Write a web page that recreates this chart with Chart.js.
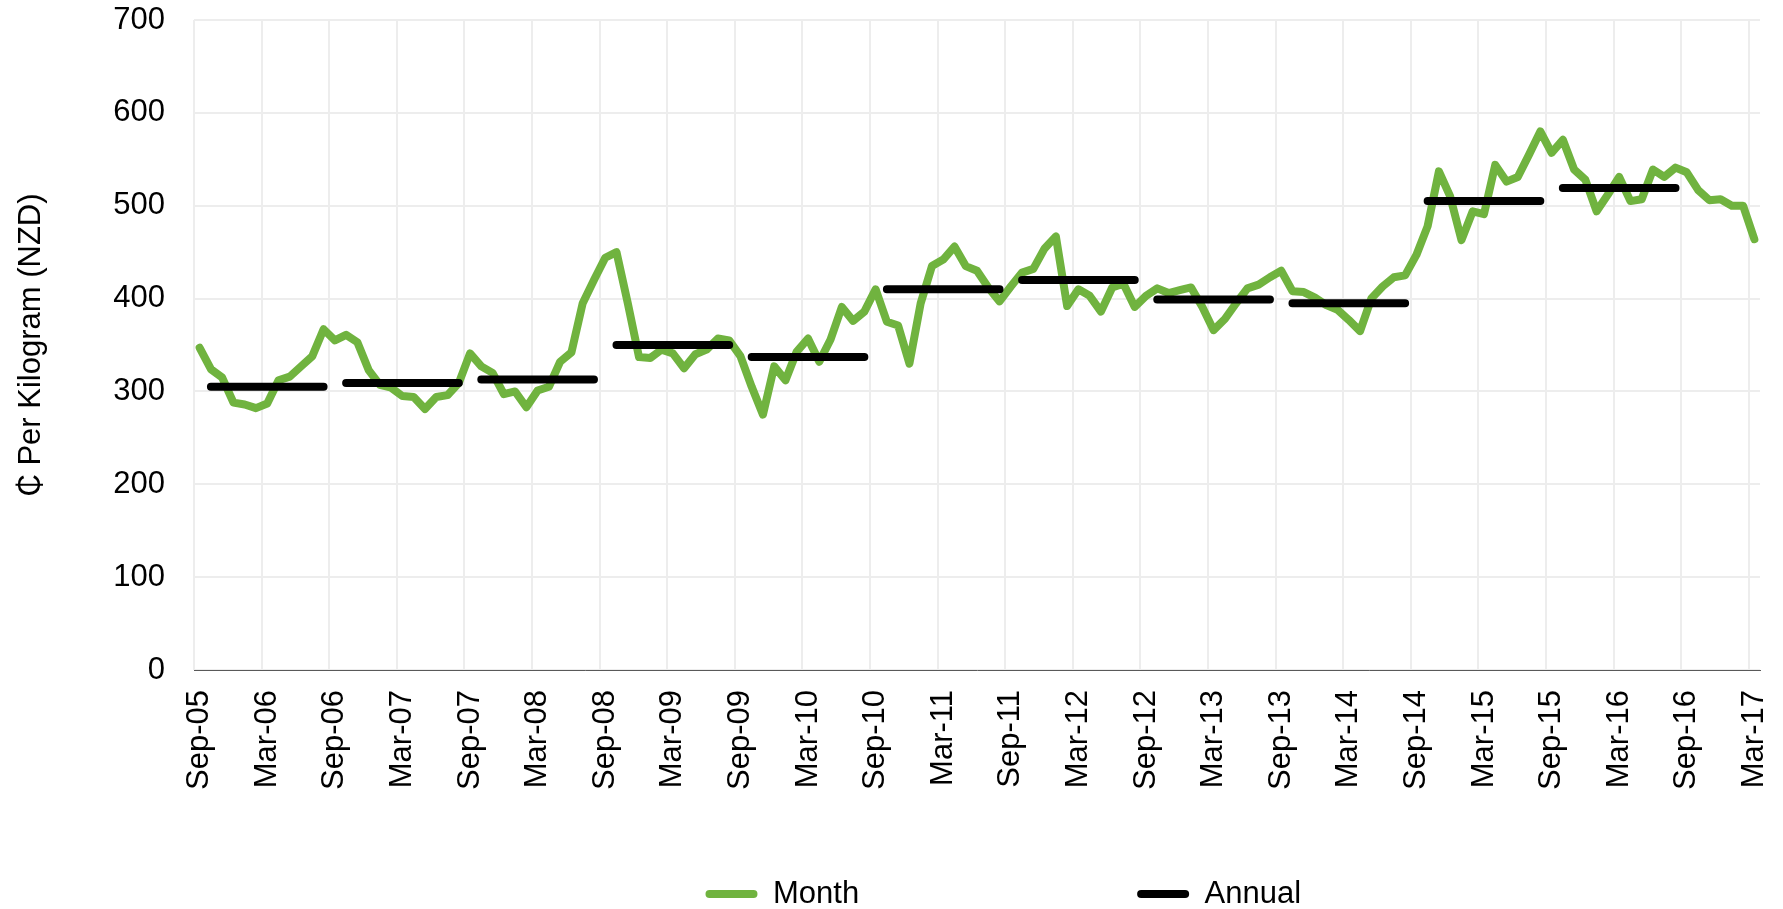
<!DOCTYPE html>
<html>
<head>
<meta charset="utf-8">
<title>Price per kilogram</title>
<script src="https://cdn.jsdelivr.net/npm/chart.js@4.4.1/dist/chart.umd.min.js"></script>
<style>
    html, body { margin: 0; padding: 0; background: #ffffff; }
    #wrap { width: 1783px; height: 909px; }
</style>
</head>
<body>
<div id="wrap"><canvas id="priceChart" width="1783" height="909"></canvas></div>
<script>
// Monthly price, Sep-05 .. Mar-17 (cents per kg, NZD)
const monthlyValues = [
    347, 324, 315, 288, 286, 282, 287, 312, 316, 327, 338, 367,
    355, 361, 353, 323, 307, 304, 295, 294, 281, 294, 296, 309,
    341, 327, 320, 297, 300, 283, 301, 305, 332, 342, 395, 420,
    444, 450, 395, 337, 336, 345, 341, 325, 340, 345, 357, 355,
    338, 305, 275, 327, 312, 343, 357, 332, 356, 391, 376, 386,
    410, 375, 371, 330, 395, 435, 442, 456, 435, 430, 412, 397,
    413, 428, 432, 454, 467, 392, 410, 403, 386, 412, 416, 391,
    403, 411, 406, 409, 412, 391, 366, 378, 395, 411, 415, 423,
    430, 408, 407, 401, 393, 388, 377, 365, 400, 413, 423, 425,
    447, 478, 537, 510, 463, 494, 491, 544, 526, 531, 555, 580,
    557, 571, 539, 528, 494, 512, 531, 505, 507, 539, 531, 541,
    536, 517, 506, 507, 500, 500, 464
];

// Annual average, one per season (Oct .. Aug)
const annualValues = [305, 309, 313, 350, 337, 410, 420, 399, 395, 505, 519];

// Labels shown on the x axis (every 6th month)
const tickLabels = [
    'Sep-05', 'Mar-06', 'Sep-06', 'Mar-07', 'Sep-07', 'Mar-08', 'Sep-08', 'Mar-09',
    'Sep-09', 'Mar-10', 'Sep-10', 'Mar-11', 'Sep-11', 'Mar-12', 'Sep-12', 'Mar-13',
    'Sep-13', 'Mar-14', 'Sep-14', 'Mar-15', 'Sep-15', 'Mar-16', 'Sep-16', 'Mar-17'
];

const monthNames = ['Jan', 'Feb', 'Mar', 'Apr', 'May', 'Jun', 'Jul', 'Aug', 'Sep', 'Oct', 'Nov', 'Dec'];

// Build the month categories starting at Sep 2005
const monthLabels = monthlyValues.map((_, i) => {
    const m = (8 + i) % 12;
    const y = 2005 + Math.floor((8 + i) / 12);
    return monthNames[m] + '-' + String(y % 100).padStart(2, '0');
});

// Annual line: flat segment Oct..Aug, gap at each Sep
const annualSeries = monthLabels.map((_, i) => {
    const k = Math.floor(i / 12);
    if (i % 12 === 0 || k >= annualValues.length) return null;
    return annualValues[k];
});

const FONT = "'Liberation Sans', Arial, sans-serif";
const GRID = '#ededed';
const GREEN = '#70b33f';
const CLEAR = 'rgba(0,0,0,0)';
const nbsp = n => '\u00A0'.repeat(n);
const legendTail = [22, 43]; // trailing space to spread the legend items

new Chart(document.getElementById('priceChart'), {
    type: 'line',
    data: {
        labels: monthLabels,
        datasets: [
            {
                label: 'Month',
                data: monthlyValues,
                borderColor: GREEN,
                backgroundColor: GREEN,
                borderWidth: 8,
                borderCapStyle: 'round',
                borderJoinStyle: 'round',
                pointRadius: 0,
                tension: 0,
                order: 1
            },
            {
                label: 'Annual',
                data: annualSeries,
                borderColor: '#000000',
                backgroundColor: '#000000',
                borderWidth: 8,
                borderCapStyle: 'round',
                pointRadius: 0,
                spanGaps: false,
                order: 0
            }
        ]
    },
    options: {
        responsive: false,
        devicePixelRatio: 1,
        animation: false,
        layout: {
            padding: { left: 0, right: 23, top: 20, bottom: 0 }
        },
        plugins: {
            tooltip: { enabled: false },
            legend: {
                position: 'bottom',
                align: 'end',
                maxHeight: 119,
                labels: {
                    font: { size: 31, family: FONT },
                    color: '#000000',
                    boxWidth: 52,
                    boxHeight: 8,
                    padding: 88.5,
                    useBorderRadius: true,
                    borderRadius: 4,
                    generateLabels: (chart) => chart.data.datasets.map((ds, i) => ({
                        text: ds.label + nbsp(legendTail[i]),
                        fillStyle: ds.borderColor,
                        strokeStyle: ds.borderColor,
                        lineWidth: 0,
                        borderRadius: 4,
                        hidden: false,
                        datasetIndex: i
                    }))
                }
            }
        },
        scales: {
            x: {
                type: 'category',
                offset: true,
                grid: {
                    offset: true,
                    drawTicks: true,
                    tickLength: 20,
                    tickColor: CLEAR,
                    lineWidth: 2,
                    color: (ctx) => (ctx.index % 6 === 0 ? GRID : CLEAR)
                },
                border: { display: true, color: '#595959', width: 1 },
                ticks: {
                    autoSkip: false,
                    minRotation: 90,
                    maxRotation: 90,
                    padding: 0,
                    color: '#000000',
                    font: { size: 31, family: FONT, lineHeight: 0.8 },
                    callback: (value, index) => (index % 6 === 0 ? tickLabels[index / 6] : '')
                }
            },
            y: {
                min: 0,
                max: 700,
                grid: {
                    drawTicks: true,
                    tickLength: 29,
                    tickColor: CLEAR,
                    color: GRID,
                    lineWidth: 2
                },
                border: { display: false },
                ticks: {
                    stepSize: 100,
                    padding: 0,
                    color: '#000000',
                    font: { size: 31, family: FONT }
                },
                title: {
                    display: true,
                    text: '₵ Per Kilogram (NZD)',
                    color: '#000000',
                    font: { size: 31, family: FONT },
                    padding: { top: 12.4, bottom: 63.7 }
                }
            }
        }
    }
});
</script>
</body>
</html>
